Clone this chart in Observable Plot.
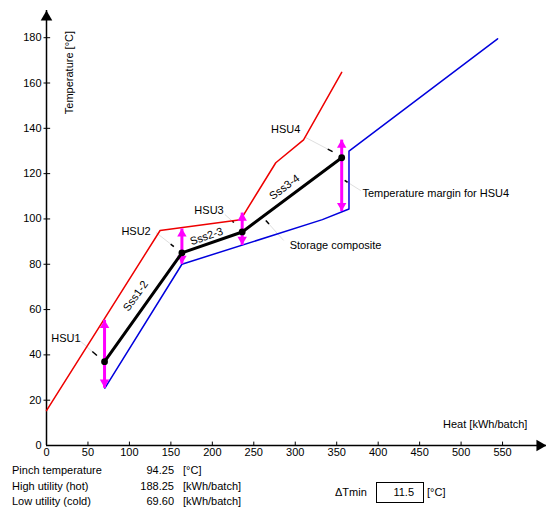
<!DOCTYPE html>
<html>
<head>
<meta charset="utf-8">
<script src="https://cdn.jsdelivr.net/npm/d3@7"></script>
<script src="https://cdn.jsdelivr.net/npm/@observablehq/plot@0.6"></script>
<style>
  body { margin: 0; background: #fff; font-family: "Liberation Sans", Arial, sans-serif; }
  #wrap { position: relative; width: 546px; height: 508px; }
  #table { position: absolute; left: 0; top: 460px; width: 546px; height: 48px; font-size: 11px; color: #000; }
  #table div { position: absolute; line-height: 14px; white-space: nowrap; }
  .num { text-align: right; width: 80px; }
</style>
</head>
<body>
<div id="wrap">
  <div id="chart"></div>
  <div id="table"></div>
</div>
<script>
// ---- data ----
const xTicks = [0, 50, 100, 150, 200, 250, 300, 350, 400, 450, 500, 550];
const yTicks = [0, 20, 40, 60, 80, 100, 120, 140, 160, 180];
const xAxisEnd = 603;
const yAxisEnd = 192;

// hot composite (red)
const hotX = [0, 137, 234, 276.5, 310, 356];
const hotY = [15.4, 94.9, 99.6, 124.8, 134.9, 164.7];
// cold / storage composite (blue)
const coldX = [70.4, 163.3, 332.7, 364.8, 364.8, 544];
const coldY = [25.3, 80, 99.7, 104.4, 129.9, 179.5];
// storage line (black)
const storX = [70, 163.3, 236, 356];
const storY = [37, 85, 94.25, 127];
// magenta temperature margins
const marginTop = [55.5, 95.8, 102.8, 135];
const marginBot = [25.5, 80.2, 88.5, 103.5];

// labels
const labelText = ["HSU1", "HSU2", "HSU3", "HSU4"];
const labelX = [23.5, 108, 196, 288.5];
const labelY = [47.2, 94.4, 103.7, 139.4];

const segText = ["Sss1-2", "Sss2-3", "Sss3-4"];
const segX = [107.5, 193, 287];
const segY = [66, 92.3, 114];
const segAngle = [-54.6, -18.9, -36.7];

const noteText = ["Temperature margin for HSU4", "Storage composite"];
const noteX = [381, 293.3];
const noteY = [111.2, 88.3];

// leader lines: from label to tip
const leadFromX = [30, 132, 215, 312.7, 379, 286];
const leadFromY = [49.5, 94, 102, 135.9, 112.5, 90.5];
const leadTipX = [60.8, 153.6, 226, 345, 359.6, 264.5];
const leadTipY = [39.7, 87.8, 98.4, 129.7, 117, 99.3];

// bottom table
const infoLabels = ["Pinch temperature", "High utility (hot)", "Low utility (cold)"];
const infoValues = ["94.25", "188.25", "69.60"];
const infoUnits = ["[°C]", "[kWh/batch]", "[kWh/batch]"];
const dTminLabel = "ΔTmin";
const dTminValue = "11.5";
const dTminUnit = "[°C]";

// ---- build tables ----
const hot = hotX.map((x, i) => ({x, y: hotY[i]}));
const cold = coldX.map((x, i) => ({x, y: coldY[i]}));
const stor = storX.map((x, i) => ({x, y: storY[i]}));
const margins = storX.map((x, i) => ({x, y: storY[i], top: marginTop[i], bot: marginBot[i]}));
const labels = labelText.map((t, i) => ({t, x: labelX[i], y: labelY[i]}));
const segs = segText.map((t, i) => ({t, x: segX[i], y: segY[i], a: segAngle[i]}));
const notes = noteText.map((t, i) => ({t, x: noteX[i], y: noteY[i]}));
const leaders = leadFromX.map((fx, i) => ({
  fx, fy: leadFromY[i], tx: leadTipX[i], ty: leadTipY[i],
  sx: leadTipX[i] + 0.18 * (fx - leadTipX[i]),
  sy: leadTipY[i] + 0.18 * (leadFromY[i] - leadTipY[i])
}));

const magenta = "#ff00ff";

const chart = Plot.plot({
  width: 546,
  height: 460,
  marginLeft: 46,
  marginRight: 0,
  marginTop: 10,
  marginBottom: 15,
  x: {domain: [0, xAxisEnd]},
  y: {domain: [0, yAxisEnd]},
  style: {fontFamily: "'Liberation Sans', Arial, sans-serif", fontSize: "11px", color: "#000", background: "#fff", overflow: "visible"},
  marks: [
    // axes lines
    Plot.ruleY([0], {x1: 0, x2: xAxisEnd, stroke: "#000", strokeWidth: 1.5}),
    Plot.ruleX([0], {y1: 0, y2: yAxisEnd, stroke: "#000", strokeWidth: 1.5}),
    Plot.dot([xAxisEnd], {x: d => d, y: 0, symbol: "triangle", r: 4.3, fill: "#000", stroke: null, rotate: 90, dx: -6.7}),
    Plot.dot([yAxisEnd], {x: 0, y: d => d, symbol: "triangle", r: 4.3, fill: "#000", stroke: null, dy: 6.7}),
    // inward ticks
    Plot.ruleX(xTicks.slice(1), {x: d => d, y1: 0, y2: 1.5, stroke: "#000", strokeWidth: 1}),
    Plot.ruleY(yTicks.slice(1), {y: d => d, x1: -3, x2: 5, stroke: "#000", strokeWidth: 1}),
    Plot.axisX({ticks: xTicks, tickSize: 0, tickPadding: 3, label: null}),
    Plot.axisY({ticks: yTicks, tickSize: 0, tickPadding: 5, label: null}),
    // axis titles
    Plot.text(["Temperature [°C]"], {x: 28.3, y: 164.6, text: d => d, rotate: -90, fontSize: 11}),
    Plot.text(["Heat [kWh/batch]"], {x: 580, y: 9.3, text: d => d, textAnchor: "end", fontSize: 11}),
    // leaders
    Plot.link(leaders, {x1: "fx", y1: "fy", x2: "tx", y2: "ty", stroke: "#c8c8c8", strokeWidth: 0.6}),
    Plot.link(leaders, {x1: "sx", y1: "sy", x2: "tx", y2: "ty", stroke: "#000", strokeWidth: 1.5}),
    // composites
    Plot.line(hot, {x: "x", y: "y", stroke: "#ee0000", strokeWidth: 1.5}),
    Plot.line(cold, {x: "x", y: "y", stroke: "#0000dd", strokeWidth: 1.5}),
    // magenta margins
    Plot.link(margins, {x1: "x", x2: "x", y1: "y", y2: "top", stroke: magenta, strokeWidth: 3}),
    Plot.link(margins, {x1: "x", x2: "x", y1: "y", y2: "bot", stroke: magenta, strokeWidth: 3}),
    Plot.dot(margins, {x: "x", y: "top", symbol: "triangle", r: 3.5, fill: magenta, stroke: null, dy: 5.4}),
    Plot.dot(margins, {x: "x", y: "bot", symbol: "triangle", r: 3.5, fill: magenta, stroke: null, rotate: 180, dy: -5.4}),
    // storage line
    Plot.line(stor, {x: "x", y: "y", stroke: "#000", strokeWidth: 3}),
    Plot.dot(stor, {x: "x", y: "y", r: 3.4, fill: "#000", stroke: null}),
    // labels
    Plot.text(labels, {x: "x", y: "y", text: "t", fontSize: 11}),
    Plot.text(segs, {x: "x", y: "y", text: "t", rotate: "a", fontSize: 11}),
    Plot.text(notes, {x: "x", y: "y", text: "t", textAnchor: "start", fontSize: 11})
  ]
});
document.getElementById("chart").appendChild(chart);

// bottom info table (HTML below the SVG)
const tbl = document.getElementById("table");
function add(text, left, top, cls, width) {
  const d = document.createElement("div");
  d.textContent = text;
  d.style.left = left + "px";
  d.style.top = top + "px";
  if (cls) d.className = cls;
  if (width) d.style.width = width + "px";
  tbl.appendChild(d);
}
const rowTops = [3, 18.7, 33.7];
infoLabels.forEach((t, i) => {
  add(t, 12, rowTops[i]);
  add(infoValues[i], 94, rowTops[i], "num", 80);
  add(infoUnits[i], 183, rowTops[i]);
});
add(dTminLabel, 335, 25);
const box = document.createElement("div");
box.style.cssText = "left:376px;top:22px;width:46px;height:19px;border:1px solid #000;";
tbl.appendChild(box);
add(dTminValue, 334, 25, "num", 80);
add(dTminUnit, 427, 25);
</script>
</body>
</html>
